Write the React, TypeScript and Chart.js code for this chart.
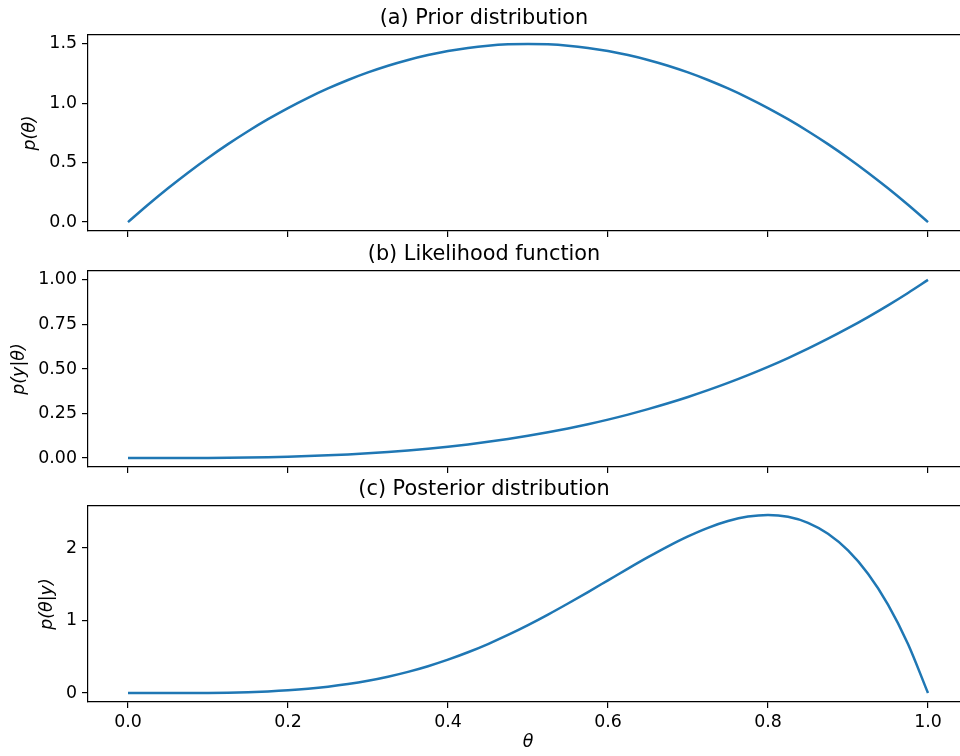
import React, { useEffect, useRef } from 'react';
import { Chart, registerables } from 'chart.js';

Chart.register(...registerables);

// θ grid (x values)
const theta = [
  0, 0.025, 0.05, 0.075, 0.1, 0.125, 0.15, 0.175, 0.2, 0.225, 0.25, 0.275, 0.3, 0.325, 0.35, 0.375, 0.4,
  0.425, 0.45, 0.475, 0.5, 0.525, 0.55, 0.575, 0.6, 0.625, 0.65, 0.675, 0.7, 0.725, 0.75, 0.775, 0.8,
  0.825, 0.85, 0.875, 0.9, 0.925, 0.95, 0.975, 1.0,
];

// (a) prior p(θ)
const prior = [
  0, 0.14625, 0.285, 0.41625, 0.54, 0.65625, 0.765, 0.86625, 0.96, 1.04625, 1.125, 1.19625, 1.26, 1.31625,
  1.365, 1.40625, 1.44, 1.46625, 1.485, 1.49625, 1.5, 1.49625, 1.485, 1.46625, 1.44, 1.40625, 1.365, 1.31625,
  1.26, 1.19625, 1.125, 1.04625, 0.96, 0.86625, 0.765, 0.65625, 0.54, 0.41625, 0.285, 0.14625, 0,
];

// (b) likelihood p(y|θ)
const likelihood = [
  0, 0.0000156, 0.000125, 0.000422, 0.001, 0.001953, 0.003375, 0.005359, 0.008, 0.011391, 0.015625, 0.020797,
  0.027, 0.034328, 0.042875, 0.052734, 0.064, 0.076766, 0.091125, 0.107172, 0.125, 0.144703, 0.166375,
  0.190109, 0.216, 0.244141, 0.274625, 0.307547, 0.343, 0.381078, 0.421875, 0.465484, 0.512, 0.561516,
  0.614125, 0.669922, 0.729, 0.791453, 0.857375, 0.926859, 1.0,
];

// (c) posterior p(θ|y)
const posterior = [
  0, 0.0000114, 0.000178, 0.000878, 0.0027, 0.006409, 0.01291, 0.02321, 0.0384, 0.05959, 0.08789, 0.12439,
  0.1701, 0.22592, 0.29262, 0.37079, 0.4608, 0.56279, 0.6766, 0.80178, 0.9375, 1.08256, 1.23533, 1.39374,
  1.5552, 1.71662, 1.87432, 2.02404, 2.1609, 2.27932, 2.37305, 2.43506, 2.4576, 2.43207, 2.34903, 2.19818,
  1.9683, 1.64721, 1.22176, 0.67777, 0,
];

const xTicks = [0, 0.2, 0.4, 0.6, 0.8, 1.0];
const priorTicks = [0, 0.5, 1.0, 1.5];
const likelihoodTicks = [0, 0.25, 0.5, 0.75, 1.0];
const posteriorTicks = [0, 1, 2];

const titles = ['(a) Prior distribution', '(b) Likelihood function', '(c) Posterior distribution'];
const yLabels = ['p(θ)', 'p(y|θ)', 'p(θ|y)'];
const xLabel = 'θ';

const FONT = 'DejaVu Sans';
const TICK_SIZE = 17.4;
const TITLE_SIZE = 20.8;
const LINE_COLOR = '#1f77b4';
const AXIS_W = 1.2;

const boxPlugin = {
  id: 'box',
  afterDatasetsDraw(chart: any) {
    const { ctx, chartArea } = chart;
    const { left, top, right } = chartArea;
    ctx.save();
    ctx.fillStyle = '#000';
    const t = Math.round(top);
    ctx.fillRect(left, t - 1, right - left, 1);
    ctx.globalAlpha = 0.25;
    ctx.fillRect(left, t, right - left, 1);
    ctx.restore();
  },
};

type PanelProps = {
  top: number;
  height: number;
  axisHeight: number;
  values: number[];
  yTicks: number[];
  decimals: number;
  yLabel: string;
  yLabelPad: number;
  title: string;
  showX: boolean;
};

function Panel(p: PanelProps) {
  const ref = useRef<HTMLCanvasElement | null>(null);
  useEffect(() => {
    const vmin = Math.min(...p.values);
    const vmax = Math.max(...p.values);
    const margin = (vmax - vmin) * 0.05;
    const xmin = theta[0] - (theta[theta.length - 1] - theta[0]) * 0.05;
    const xmax = theta[theta.length - 1] + (theta[theta.length - 1] - theta[0]) * 0.05;
    const chart = new Chart(ref.current as HTMLCanvasElement, {
      type: 'line',
      data: {
        datasets: [
          {
            data: theta.map((t, i) => ({ x: t, y: p.values[i] })),
            borderColor: LINE_COLOR,
            borderWidth: 2.5,
            pointRadius: 0,
            fill: false,
            cubicInterpolationMode: 'monotone',
          },
        ],
      },
      options: {
        animation: false,
        responsive: false,
        devicePixelRatio: 1,
        layout: { padding: 0 },
        plugins: {
          legend: { display: false },
          tooltip: { enabled: false },
          title: {
            display: true,
            text: p.title,
            color: '#000',
            font: { family: FONT, size: TITLE_SIZE, weight: 'normal', lineHeight: 1.2 },
            padding: { top: 6, bottom: 35 - 6 - TITLE_SIZE * 1.2 },
          },
        },
        scales: {
          x: {
            type: 'linear',
            min: xmin,
            max: xmax,
            afterBuildTicks: (s: any) => {
              s.ticks = xTicks.map((v) => ({ value: v }));
            },
            afterFit: (s: any) => {
              s.height = p.axisHeight;
            },
            ticks: {
              display: p.showX,
              autoSkip: false,
              maxRotation: 0,
              padding: 4,
              color: '#000',
              font: { family: FONT, size: TICK_SIZE },
              callback: (v: any) => Number(v).toFixed(1),
            },
            grid: { drawOnChartArea: false, drawTicks: true, tickLength: 6, color: '#000', lineWidth: AXIS_W },
            border: { display: true, color: '#000', width: AXIS_W },
            title: {
              display: p.showX,
              text: xLabel,
              color: '#000',
              font: { family: FONT, size: TICK_SIZE, style: 'italic' },
              padding: { top: 0, bottom: 3.5 },
            },
          },
          y: {
            type: 'linear',
            min: vmin - margin,
            max: vmax + margin,
            afterBuildTicks: (s: any) => {
              s.ticks = p.yTicks.map((v) => ({ value: v }));
            },
            afterFit: (s: any) => {
              s.width = 88;
            },
            ticks: {
              padding: 5,
              color: '#000',
              font: { family: FONT, size: TICK_SIZE },
              callback: (v: any) => Number(v).toFixed(p.decimals),
            },
            grid: { drawOnChartArea: false, drawTicks: true, tickLength: 6, color: '#000', lineWidth: AXIS_W },
            border: { display: true, color: '#000', width: AXIS_W },
            title: {
              display: true,
              text: p.yLabel,
              color: '#000',
              font: { family: FONT, size: TICK_SIZE, style: 'italic' },
              padding: { top: p.yLabelPad, bottom: 0 },
            },
          },
        },
      },
      plugins: [boxPlugin],
    } as any);
    return () => chart.destroy();
  }, []);
  return (
    <canvas
      ref={ref}
      width={968}
      height={p.height}
      style={{ position: 'absolute', left: 0, top: p.top, width: 968, height: p.height }}
    />
  );
}

export default function App() {
  return (
    <div
      style={{
        position: 'fixed',
        left: 0,
        top: 0,
        width: 960,
        height: 756,
        overflow: 'hidden',
        background: '#fff',
      }}
    >
      <Panel top={0} height={280} axisHeight={49} values={prior} yTicks={priorTicks} decimals={1}
        yLabel={yLabels[0]} yLabelPad={19.6} title={titles[0]} showX={false} />
      <Panel top={236} height={280} axisHeight={49} values={likelihood} yTicks={likelihoodTicks} decimals={2}
        yLabel={yLabels[1]} yLabelPad={8.6} title={titles[1]} showX={false} />
      <Panel top={471} height={285} axisHeight={54} values={posterior} yTicks={posteriorTicks} decimals={0}
        yLabel={yLabels[2]} yLabelPad={36.6} title={titles[2]} showX={true} />
    </div>
  );
}
